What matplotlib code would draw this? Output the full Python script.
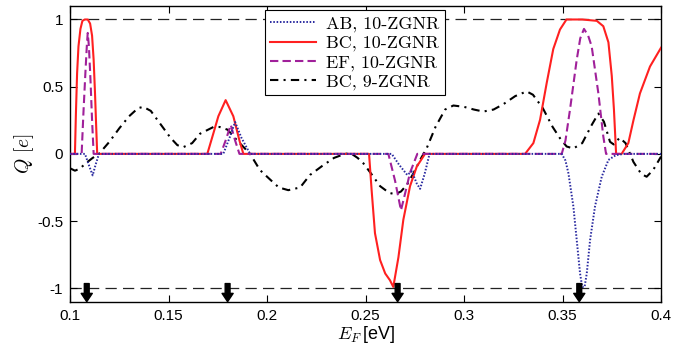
import matplotlib
matplotlib.use("Agg")
import matplotlib.pyplot as plt

plt.rcParams['mathtext.fontset'] = 'cm'
plt.rcParams['font.family'] = ['Liberation Sans', 'DejaVu Sans']

# ---------------- data ----------------
ab_E = [0.100, 0.1076, 0.1095, 0.1115, 0.1130, 0.1147,
        0.1778, 0.1810, 0.1838, 0.1870, 0.1914,
        0.2633, 0.2670, 0.2712, 0.2735, 0.2760, 0.2777, 0.2800, 0.2825,
        0.3496, 0.3515, 0.3530, 0.3555, 0.3572, 0.3589, 0.3600, 0.3612, 0.3623,
        0.3640, 0.3665, 0.3699, 0.3733, 0.3770, 0.3810, 0.400]
ab_Q = [0, 0, -0.08, -0.16, -0.08, 0,
        0, 0.12, 0.237, 0.12, 0,
        0, -0.08, -0.157, -0.13, -0.22, -0.26, -0.15, 0,
        0, -0.05, -0.145, -0.39, -0.64, -0.89, -0.99, -0.99, -0.89,
        -0.64, -0.39, -0.17, -0.045, -0.01, 0, 0]

bc10_E = [0.100, 0.1025, 0.1030, 0.1036, 0.1043, 0.1053, 0.1063, 0.1075, 0.1090,
          0.1102, 0.1112, 0.1120, 0.1127, 0.1133, 0.1138,
          0.1697, 0.1728, 0.1753, 0.1790, 0.1829, 0.1860, 0.1880,
          0.2518, 0.2531, 0.2548, 0.2574, 0.2600, 0.2624, 0.2641, 0.2667, 0.2692,
          0.2726, 0.2760, 0.2802,
          0.3310, 0.3352, 0.3386, 0.3420, 0.3453, 0.3487, 0.3520, 0.3600, 0.3674,
          0.3707, 0.3733, 0.3750, 0.3761, 0.3772, 0.3800, 0.3834, 0.3860, 0.3893,
          0.3944, 0.400]
bc10_Q = [0, 0, 0.3, 0.6, 0.8, 0.93, 0.99, 1.0, 1.0,
          0.97, 0.88, 0.7, 0.45, 0.2, 0,
          0, 0.154, 0.28, 0.40, 0.28, 0.10, 0,
          0, -0.27, -0.59, -0.79, -0.89, -0.94, -0.99, -0.77, -0.49,
          -0.24, -0.095, 0,
          0, 0.08, 0.254, 0.53, 0.78, 0.925, 1.0, 1.0, 0.99,
          0.95, 0.83, 0.58, 0.33, 0, 0, 0.08, 0.25, 0.45,
          0.65, 0.79]

ef_E = [0.100, 0.1059, 0.1068, 0.1078, 0.1086, 0.1090, 0.1096, 0.1104, 0.1112, 0.1120,
        0.1765, 0.1790, 0.1816, 0.1838, 0.1860,
        0.2616, 0.2650, 0.2680, 0.2700, 0.2726, 0.2763,
        0.3496, 0.3515, 0.3538, 0.3572, 0.3590, 0.3609, 0.3630, 0.3648, 0.3682,
        0.3707, 0.3721, 0.400]
ef_Q = [0, 0, 0.3, 0.6, 0.82, 0.90, 0.8, 0.55, 0.25, 0,
        0, 0.10, 0.216, 0.10, 0,
        0, -0.20, -0.42, -0.30, -0.14, 0,
        0, 0.10, 0.33, 0.70, 0.86, 0.93, 0.88, 0.80, 0.45,
        0.13, 0, 0]

bc9_E = [0.100, 0.1025, 0.1050, 0.1080, 0.1115, 0.1147, 0.1200, 0.1250, 0.1300,
         0.1345, 0.1372, 0.1410, 0.1460, 0.1510, 0.1545, 0.1575, 0.1620, 0.1660,
         0.1728, 0.1760, 0.1800, 0.1846, 0.1914, 0.1964, 0.2015, 0.2060, 0.2108,
         0.2168, 0.2218, 0.2280, 0.2340, 0.2395, 0.2425, 0.2460, 0.2489, 0.2530,
         0.2574, 0.2620, 0.2650, 0.2680, 0.2710, 0.2745, 0.2777, 0.2810, 0.2855,
         0.2904, 0.2946, 0.3000, 0.3050, 0.3098, 0.3150, 0.3200, 0.3260, 0.3318,
         0.3350, 0.3400, 0.3450, 0.3490, 0.3521, 0.3555, 0.3600, 0.3650, 0.3682,
         0.3710, 0.3741, 0.3760, 0.3790, 0.3820, 0.3860, 0.3900, 0.3927, 0.3960,
         0.400]
bc9_Q = [-0.107, -0.125, -0.11, -0.07, -0.03, 0.0, 0.09, 0.19, 0.28,
         0.34, 0.35, 0.32, 0.22, 0.12, 0.065, 0.05, 0.08, 0.15,
         0.20, 0.20, 0.18, 0.104, 0.0, -0.12, -0.19, -0.25, -0.27,
         -0.25, -0.157, -0.09, -0.03, 0.0, 0.005, -0.03, -0.07, -0.15,
         -0.24, -0.29, -0.30, -0.28, -0.23, -0.14, -0.045, 0.04, 0.2,
         0.33, 0.36, 0.35, 0.33, 0.315, 0.33, 0.37, 0.43, 0.465,
         0.44, 0.34, 0.2, 0.11, 0.055, 0.04, 0.08, 0.22, 0.30,
         0.24, 0.09, 0.07, 0.12, 0.08, -0.06, -0.15, -0.17, -0.12,
         -0.02]

arrow_E = [0.1085, 0.180, 0.2663, 0.3585]

x_ticks = [0.1, 0.15, 0.2, 0.25, 0.3, 0.35, 0.4]
x_labels = ['0.1', '0.15', '0.2', '0.25', '0.3', '0.35', '0.4']
y_ticks = [-1, -0.5, 0, 0.5, 1]
y_labels = ['-1', '-0.5', '0', '0.5', '1']

# ---------------- plot ----------------
fig = plt.figure(figsize=(6.89, 3.56), dpi=100)
ax = fig.add_axes([0.1016, 0.1525, 0.8578, 0.8305])

ax.axhline(1, color='#222222', lw=0.9, dashes=(9, 5), zorder=1)
ax.axhline(-1, color='#222222', lw=0.9, dashes=(9, 5), zorder=1)

l4, = ax.plot(bc9_E, bc9_Q, color='black', lw=1.5, dashes=(4, 2.5, 1, 2.5),
              label='BC, 9-ZGNR', zorder=2)
l2, = ax.plot(bc10_E, bc10_Q, color='#ff2020', lw=1.5, label='BC, 10-ZGNR', zorder=3)
l3, = ax.plot(ef_E, ef_Q, color='#a0209a', lw=1.5, dashes=(4, 2),
              label='EF, 10-ZGNR', zorder=4)
l1, = ax.plot(ab_E, ab_Q, color='#2a2aa0', lw=1.4, dashes=(0.8, 0.9),
              label='AB, 10-ZGNR', zorder=5)

for xe in arrow_E:
    ax.annotate('', xy=(xe, -1.1), xytext=(xe, -0.965),
                arrowprops=dict(facecolor='black', edgecolor='black',
                                width=3.5, headwidth=8, headlength=6, shrink=0),
                zorder=6)

ax.set_xlim(0.1, 0.4)
ax.set_ylim(-1.1, 1.1)
ax.set_xticks(x_ticks)
ax.set_xticklabels(x_labels)
ax.set_yticks(y_ticks)
ax.set_yticklabels(y_labels)
ax.tick_params(direction='in', top=True, right=True, length=5, width=0.8,
               labelsize=11, pad=5)
for s in ax.spines.values():
    s.set_linewidth(1.0)

ax.set_xlabel(r'$E_F\,$[eV]', fontsize=13, labelpad=1)
ax.set_ylabel(r'$Q\ [e]$', fontsize=14, labelpad=1)

leg = ax.legend(handles=[l1, l2, l3, l4], loc='upper left',
                bbox_to_anchor=(0.33, 0.985), frameon=True, fancybox=False,
                framealpha=1, edgecolor='black', handlelength=2.5,
                labelspacing=0.18, borderpad=0.3, handletextpad=0.6,
                borderaxespad=0, prop={'family': 'cmr10', 'size': 13})
leg.get_frame().set_linewidth(0.8)

fig.savefig('out.png', dpi=100)
